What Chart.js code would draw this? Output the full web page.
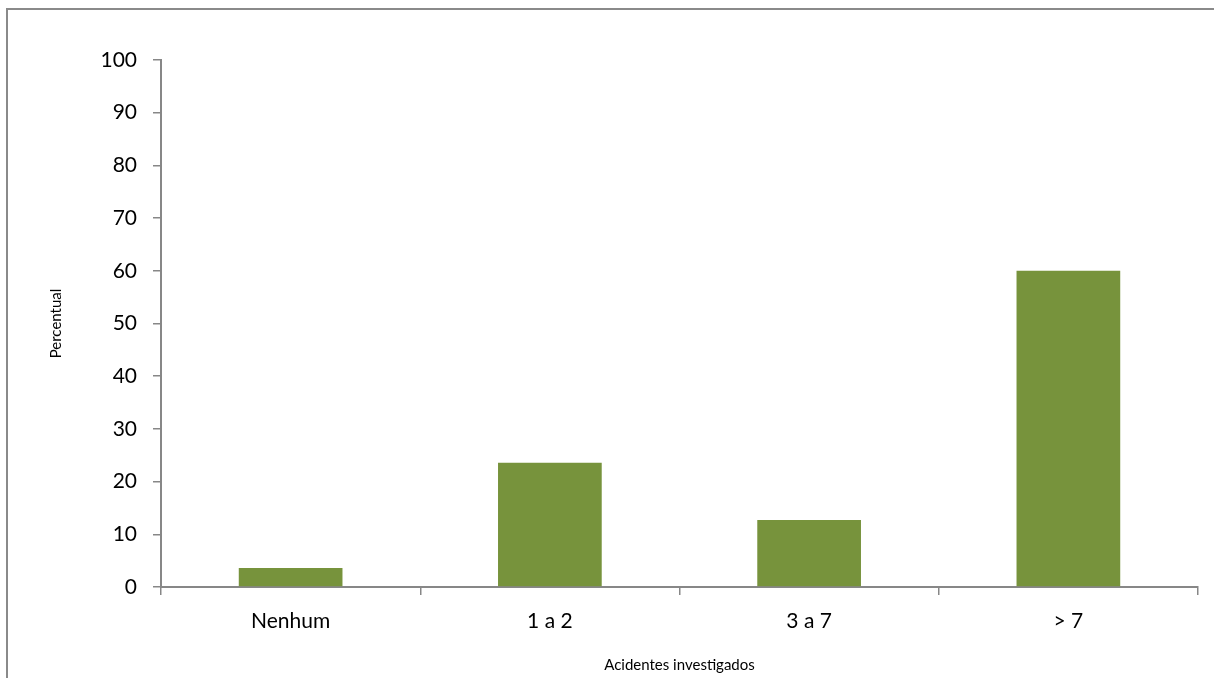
<!DOCTYPE html>
<html>
<head>
<meta charset="utf-8">
<script src="https://cdn.jsdelivr.net/npm/chart.js@4"></script>
<style>
  html, body { margin: 0; padding: 0; background: #fff; overflow: hidden; }
  #frame {
    position: absolute; left: 6px; top: 8px; width: 1400px; height: 900px;
    border: 2px solid #8a8a8a; box-sizing: border-box;
  }
  #wrap { position: absolute; left: 0; top: 0; width: 1214px; height: 678px; }
</style>
</head>
<body>
<div id="frame"></div>
<div id="wrap"><canvas id="chart"></canvas></div>
<script>
// Chart data
const categories = ['Nenhum', '1 a 2', '3 a 7', '> 7'];
const percentValues = [3.6, 23.6, 12.7, 60.0];
const yTicks = [0, 10, 20, 30, 40, 50, 60, 70, 80, 90, 100];

const axisGray = '#878787';

const ctx = document.getElementById('chart').getContext('2d');
const chart = new Chart(ctx, {
  type: 'bar',
  data: {
    labels: categories,
    datasets: [{
      label: 'Percentual',
      data: percentValues,
      backgroundColor: '#77933c',
      borderWidth: 0,
      barPercentage: 0.4,
      categoryPercentage: 1.0
    }]
  },
  options: {
    responsive: true,
    maintainAspectRatio: false,
    animation: false,
    layout: { padding: { left: 47, top: 60, right: 16, bottom: 0 } },
    plugins: { legend: { display: false }, tooltip: { enabled: false } },
    scales: {
      x: {
        afterFit: (s) => { s.height = 91; },
        grid: {
          drawOnChartArea: false, drawTicks: true, tickLength: 8,
          color: axisGray, lineWidth: 1.5, offset: true
        },
        border: { color: axisGray, width: 2 },
        ticks: { color: '#000', font: { family: 'Lato', size: 21 }, padding: 14 },
        title: {
          display: true, text: 'Acidentes investigados', color: '#000',
          font: { family: 'Lato', size: 15 }, padding: { top: 10 }
        }
      },
      y: {
        min: 0, max: 100,
        afterFit: (s) => { s.width = 114; },
        afterBuildTicks: (s) => { s.ticks = yTicks.map(v => ({ value: v })); },
        grid: {
          drawOnChartArea: false, drawTicks: true, tickLength: 8,
          color: axisGray, lineWidth: 1.5
        },
        border: { color: axisGray, width: 2 },
        ticks: { color: '#000', font: { family: 'Lato', size: 21 }, padding: 16 },
        title: {
          display: true, text: 'Percentual', color: '#000',
          font: { family: 'Lato', size: 15 }, padding: { top: 0, bottom: 0 }
        }
      }
    }
  }
});
</script>
</body>
</html>
